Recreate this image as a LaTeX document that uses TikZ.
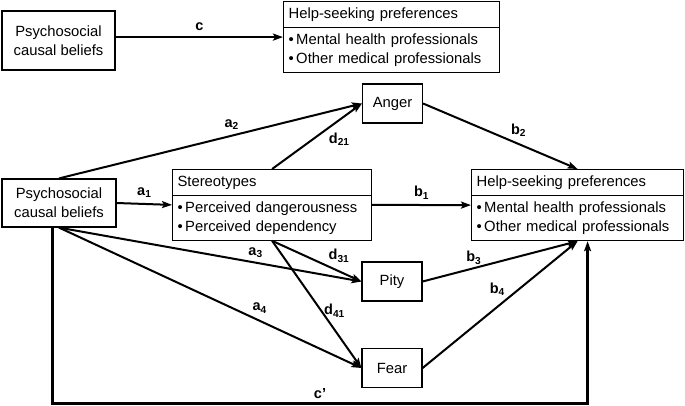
\documentclass[tikz,border=0pt]{standalone}
\usepackage{fontspec}
\setmainfont{Liberation Sans}
\usetikzlibrary{shapes.multipart,arrows.meta}
\newcommand{\coef}[2]{\textbf{#1}\textsubscript{\textbf{#2}}}

\begin{document}
\begin{tikzpicture}[x=1pt,y=-1pt,
  font=\fontsize{14.8}{19}\selectfont,
  var box/.style={draw,line width=1.2pt,align=center,inner sep=2pt},
  emotion box/.style={var box,minimum width=60pt,minimum height=39pt},
  list box/.style={draw,line width=1.2pt,rectangle split,rectangle split parts=2,
    align=left,inner xsep=5pt,inner ysep=5.5pt,anchor=north west},
  path arrow/.style={line width=2pt,-{Stealth[length=10pt,width=7pt,inset=2pt]}},
  coef label/.style={font=\fontsize{14.5}{16}\selectfont,inner sep=2pt},
  ]
  \useasboundingbox (0,0) rectangle (685,405);

  % total effect
  \node[var box,minimum width=113pt,minimum height=59pt] (beliefs-top) at (58.5,40.5)
    {Psychosocial\\causal beliefs};
  \node[list box,text width=206pt] (help-top) at (283,1)
    {Help-seeking preferences
     \nodepart{two}\textbullet\,Mental health professionals\\\textbullet\,Other medical professionals};

  \draw[path arrow] (beliefs-top.east |- help-top.west) -- (help-top.west)
    node[coef label,midway,above=3pt] {\textbf{c}};

  % mediation model
  \node[var box,minimum width=114pt,minimum height=48pt] (beliefs) at (59,203)
    {Psychosocial\\causal beliefs};
  \node[list box,text width=189pt] (stereo) at (172,169)
    {Stereotypes
     \nodepart{two}\textbullet\,Perceived dangerousness\\\textbullet\,Perceived dependency};
  \node[list box,text width=202pt] (help) at (471,169)
    {Help-seeking preferences
     \nodepart{two}\textbullet\,Mental health professionals\\\textbullet\,Other medical professionals};
  \node[emotion box] (anger) at (392.5,103.5) {Anger};
  \node[emotion box] (pity) at (392,281.5) {Pity};
  \node[emotion box] (fear) at (392,368) {Fear};
  \coordinate (bottom) at (0,403);

  \draw[path arrow] (beliefs.east) -- (stereo.west)
    node[coef label,midway,above=3pt] {\coef{a}{1}};
  \draw[path arrow] (stereo.east) -- (help.west)
    node[coef label,midway,above=3pt] {\coef{b}{1}};
  \draw[path arrow] (beliefs.north) -- (anger.west)
    node[coef label,pos=.57,above=3pt] {\coef{a}{2}};
  \draw[path arrow] (stereo.north) -- (anger.west)
    node[coef label,pos=.6,below right] {\coef{d}{21}};
  \draw[path arrow] (anger.east) -- (help.north)
    node[coef label,pos=.55,above right] {\coef{b}{2}};
  \draw[path arrow] (beliefs.south) -- (pity.west)
    node[coef label,pos=.65,above=2pt] {\coef{a}{3}};
  \draw[path arrow] (beliefs.south) -- (fear.west)
    node[coef label,pos=.63,above right] {\coef{a}{4}};
  \draw[path arrow] (stereo.south) -- (pity.west)
    node[coef label,pos=.6,above right] {\coef{d}{31}};
  \draw[path arrow] (stereo.south) -- (fear.west)
    node[coef label,pos=.55,right] {\coef{d}{41}};
  \draw[path arrow] (pity.east) -- (help.south)
    node[coef label,pos=.33,above=1pt] {\coef{b}{3}};
  \draw[path arrow] (fear.east) -- (help.south)
    node[coef label,pos=.55,above left] {\coef{b}{4}};

  % direct effect
  \draw[path arrow,line width=3pt] (beliefs.255) -- (beliefs.255 |- bottom)
    -- ([xshift=10pt]help.south |- bottom)
    node[coef label,midway,above=1pt] {\textbf{c'}}
    -- ([xshift=10pt]help.south);
\end{tikzpicture}
\end{document}
